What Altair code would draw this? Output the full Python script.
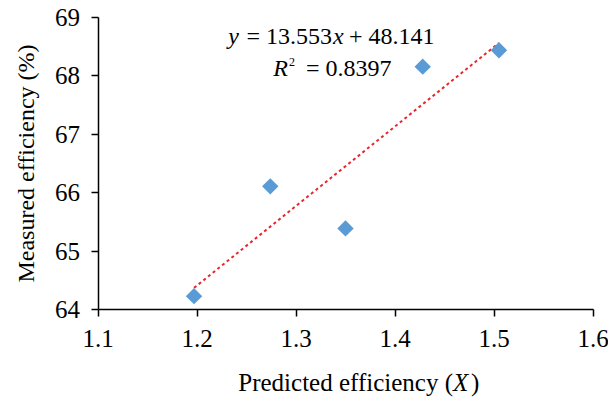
import altair as alt
import pandas as pd

predicted = [1.197, 1.274, 1.350, 1.428, 1.505]
measured = [64.22, 66.10, 65.38, 68.15, 68.43]
x_ticks = [1.1, 1.2, 1.3, 1.4, 1.5, 1.6]
y_ticks = [64, 65, 66, 67, 68, 69]
x_tick_labels = ["1.1", "1.2", "1.3", "1.4", "1.5", "1.6"]
y_tick_labels = ["64", "65", "66", "67", "68", "69"]

df = pd.DataFrame({"x": predicted, "y": measured})
xt = pd.DataFrame({"v": x_ticks, "lab": x_tick_labels})
yt = pd.DataFrame({"v": y_ticks, "lab": y_tick_labels})

FONT = "Liberation Serif"
LFS = 25
AFS = 24

xs = alt.Scale(domain=[1.1, 1.6], nice=False, zero=False)
ys = alt.Scale(domain=[64, 69], nice=False, zero=False)

axis_common = dict(
    grid=False, domainColor="black", domainWidth=1.5, tickColor="black", tickWidth=1.5,
    tickSize=7, labels=False, titleFont=FONT, titleFontWeight="normal", titleColor="black",
)
x_axis = alt.Axis(values=x_ticks, title=None, **axis_common)
y_axis = alt.Axis(values=y_ticks, title="Measured efficiency (%)",
                  titleFontSize=24, titlePadding=52, **axis_common)

base = alt.Chart(df)

points = base.mark_point(shape="diamond", filled=True, size=270, color="#5B9BD5", opacity=1).encode(
    x=alt.X("x:Q", scale=xs, axis=x_axis),
    y=alt.Y("y:Q", scale=ys, axis=y_axis),
)

trend = base.transform_regression("x", "y").mark_line(
    color="#E8262A", strokeDash=[3, 3], strokeWidth=2
).encode(x=alt.X("x:Q", scale=xs, axis=x_axis), y=alt.Y("y:Q", scale=ys, axis=y_axis))

x_labels = alt.Chart(xt).mark_text(
    font=FONT, fontSize=LFS, align="center", baseline="alphabetic", color="black"
).encode(x=alt.X("v:Q", scale=xs, axis=x_axis), y=alt.value(330), text="lab:N")

y_labels = alt.Chart(yt).mark_text(
    font=FONT, fontSize=LFS, align="right", baseline="middle", dy=1, color="black"
).encode(y=alt.Y("v:Q", scale=ys, axis=y_axis), x=alt.value(-18), text="lab:N")

def txt(t, x, y, italic=False, size=AFS, align="left"):
    return alt.Chart(pd.DataFrame({"t": [t]})).mark_text(
        font=FONT, fontSize=size, fontStyle="italic" if italic else "normal",
        align=align, baseline="alphabetic", color="black"
    ).encode(text="t:N", x=alt.value(x), y=alt.value(y))

ann = [
    txt("y", 141, 27, italic=True, align="right"),
    txt("= 13.553", 234, 27, align="right"),
    txt("x", 235, 27, italic=True),
    txt("+ 48.141", 251, 27),
    txt("R", 190, 59, italic=True, align="right"),
    txt("2", 191, 49, size=12),
    txt("= 0.8397", 208, 59),
    txt("Predicted efficiency (", 355, 374, size=25, align="right"),
    txt("X", 355, 374, italic=True, size=25),
    txt(")", 373, 374, size=25),
]

chart = alt.layer(trend, points, x_labels, y_labels, *ann).properties(
    width=495, height=292,
    autosize=alt.AutoSizeParams(type="none"),
    padding={"left": 90, "top": 9, "right": 15, "bottom": 90},
).configure(font=FONT).configure_view(stroke=None)

chart.save("out.html", embed_options={"renderer": "svg", "actions": False})
